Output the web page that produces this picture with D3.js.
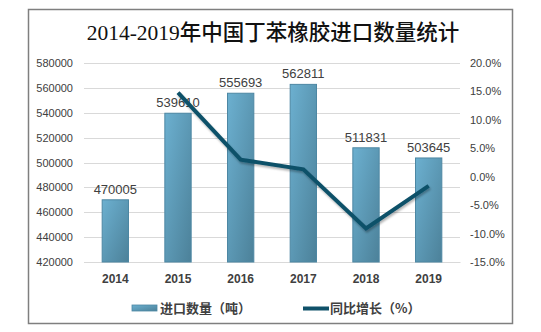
<!DOCTYPE html>
<html>
<head>
<meta charset="utf-8">
<script src="https://cdn.jsdelivr.net/npm/d3@7"></script>
<style>
  html, body { margin: 0; padding: 0; background: #fff; }
  svg { display: block; }
</style>
</head>
<body>
<svg id="chart" width="541" height="332"></svg>
<script>
// Import volume of styrene-butadiene rubber (tonnes) and year-on-year growth (%)
const years = ["2014", "2015", "2016", "2017", "2018", "2019"];
const volumes = [470005, 539610, 555693, 562811, 511831, 503645];
const growth = [null, 14.8, 3.0, 1.3, -9.1, -1.6];
const leftTicks = [420000, 440000, 460000, 480000, 500000, 520000, 540000, 560000, 580000];
const rightTicks = [-15, -10, -5, 0, 5, 10, 15, 20];

const svg = d3.select("#chart");
const plot = { left: 84, right: 460, top: 63, bottom: 262 };

// frame
svg.append("rect")
  .attr("x", 28.5).attr("y", 9.5)
  .attr("width", 484).attr("height", 314)
  .attr("fill", "#fff").attr("stroke", "#7f7f7f").attr("stroke-width", 1.5);

// title
svg.append("text")
  .attr("x", 273).attr("y", 40)
  .attr("text-anchor", "middle")
  .attr("font-family", "'Liberation Serif', 'Noto Sans CJK SC', serif")
  .attr("font-size", 21.5)
  .attr("font-weight", 500)
  .attr("fill", "#111")
  .text("2014-2019年中国丁苯橡胶进口数量统计");

const x = d3.scaleBand().domain(years).range([plot.left, plot.right]).paddingInner(0.58).paddingOuter(0.29);
const yL = d3.scaleLinear().domain([420000, 580000]).range([plot.bottom, plot.top]);
const yR = d3.scaleLinear().domain([-15, 20]).range([plot.bottom, plot.top]);

// gridlines
svg.append("g").selectAll("line").data(leftTicks).join("line")
  .attr("x1", plot.left).attr("x2", plot.right)
  .attr("y1", d => Math.round(yL(d)) + 0.5).attr("y2", d => Math.round(yL(d)) + 0.5)
  .attr("stroke", "#d9d9d9").attr("stroke-width", 1);

// left axis
const axL = svg.append("g").attr("transform", `translate(${plot.left},0)`)
  .call(d3.axisLeft(yL).tickValues(leftTicks).tickFormat(d3.format("d")).tickSize(0).tickPadding(11));
axL.select(".domain").remove();
axL.selectAll("text")
  .attr("font-family", "'Liberation Sans', Arial, sans-serif")
  .attr("font-size", 11).attr("fill", "#404040");

// right axis
const axR = svg.append("g").attr("transform", `translate(${plot.right},0)`)
  .call(d3.axisRight(yR).tickValues(rightTicks).tickFormat(d => d.toFixed(1) + "%").tickSize(0).tickPadding(10));
axR.select(".domain").remove();
axR.selectAll("text")
  .attr("font-family", "'Liberation Sans', Arial, sans-serif")
  .attr("font-size", 11).attr("fill", "#404040");

// bottom axis
const axB = svg.append("g").attr("transform", `translate(0,${plot.bottom})`)
  .call(d3.axisBottom(x).tickSize(0).tickPadding(12));
axB.select(".domain").attr("stroke", "#d9d9d9");
axB.selectAll("text")
  .attr("font-family", "'Liberation Sans', Arial, sans-serif")
  .attr("font-size", 12).attr("font-weight", "bold").attr("fill", "#404040");

// bar gradient and line shadow
const defs = svg.append("defs");
const grad = defs.append("linearGradient").attr("id", "barFill")
  .attr("x1", "0").attr("y1", "0").attr("x2", "1").attr("y2", "1");
grad.append("stop").attr("offset", "0%").attr("stop-color", "#6cb0d0");
grad.append("stop").attr("offset", "100%").attr("stop-color", "#4c8199");
const shadow = defs.append("filter").attr("id", "lineShadow").attr("x", "-10%").attr("y", "-10%").attr("width", "120%").attr("height", "130%");
shadow.append("feDropShadow").attr("dx", 1).attr("dy", 2).attr("stdDeviation", 1.2).attr("flood-color", "#000").attr("flood-opacity", 0.3);

// bars
svg.append("g").selectAll("rect").data(volumes).join("rect")
  .attr("x", (d, i) => x(years[i]))
  .attr("y", d => yL(d))
  .attr("width", x.bandwidth())
  .attr("height", d => plot.bottom - yL(d))
  .attr("fill", "url(#barFill)")
  .attr("stroke", "#4d87a3").attr("stroke-width", 1);

// bar value labels
svg.append("g").selectAll("text").data(volumes).join("text")
  .attr("x", (d, i) => x(years[i]) + x.bandwidth() / 2)
  .attr("y", d => yL(d) - 6)
  .attr("text-anchor", "middle")
  .attr("font-family", "'Liberation Sans', Arial, sans-serif")
  .attr("font-size", 13).attr("fill", "#404040")
  .text(d => d);

// growth line
const pts = growth.map((g, i) => ({ year: years[i], g })).filter(p => p.g !== null);
const line = d3.line()
  .x(p => x(p.year) + x.bandwidth() / 2)
  .y(p => yR(p.g));
svg.append("path")
  .datum(pts)
  .attr("d", line)
  .attr("fill", "none")
  .attr("stroke", "#0f5169").attr("stroke-width", 4)
  .attr("stroke-linejoin", "miter")
  .attr("filter", "url(#lineShadow)");

// legend
const lg = svg.append("g");
lg.append("rect").attr("x", 132).attr("y", 305).attr("width", 25).attr("height", 6)
  .attr("fill", "url(#barFill)").attr("stroke", "#4d87a3").attr("stroke-width", 0.8);
lg.append("text").attr("x", 160).attr("y", 313)
  .attr("font-family", "'Noto Sans CJK SC', sans-serif")
  .attr("font-size", 13).attr("font-weight", "bold").attr("fill", "#404040")
  .text("进口数量（吨）");
lg.append("line").attr("x1", 303).attr("x2", 329).attr("y1", 308.5).attr("y2", 308.5)
  .attr("stroke", "#0f5169").attr("stroke-width", 4);
lg.append("text").attr("x", 330).attr("y", 313)
  .attr("font-family", "'Noto Sans CJK SC', sans-serif")
  .attr("font-size", 13).attr("font-weight", "bold").attr("fill", "#404040")
  .text("同比增长（%）");
</script>
</body>
</html>
